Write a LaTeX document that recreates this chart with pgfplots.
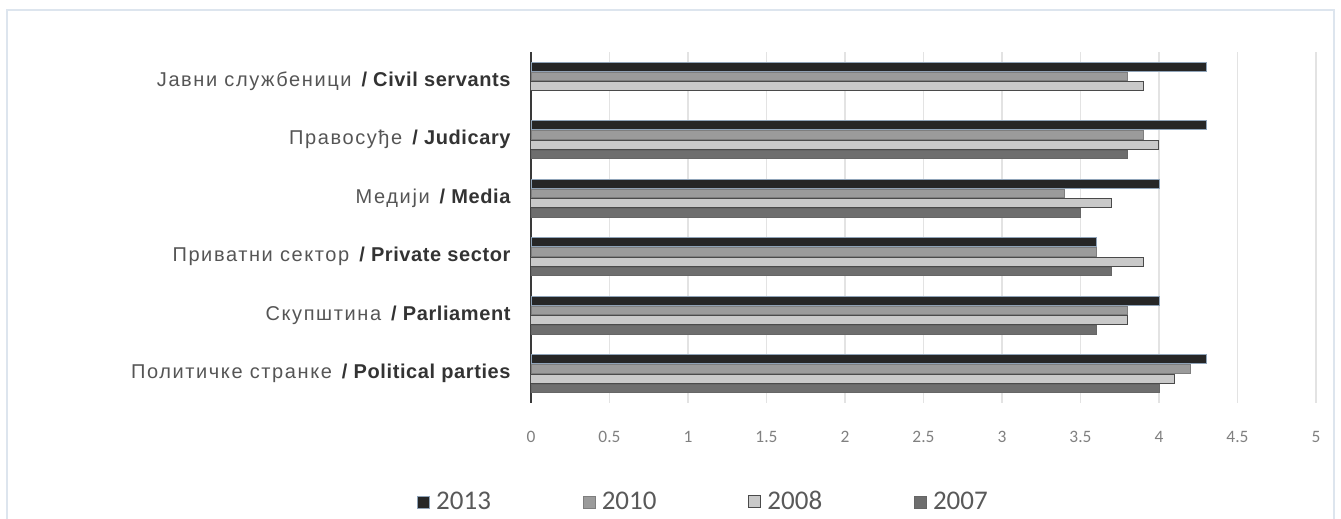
\documentclass[border=0pt]{standalone}
\usepackage{fontspec}
\setmainfont{Carlito}
\newfontfamily\cyr{Liberation Sans}[LetterSpace=8]
\newfontfamily\eng{Liberation Sans}[LetterSpace=3]
\usepackage{pgfplots}
\pgfplotsset{compat=1.18}
\definecolor{c13}{HTML}{262626}
\definecolor{c13b}{HTML}{8FA3B8}
\definecolor{c10}{HTML}{9B9B9B}
\definecolor{c10b}{HTML}{7E7E7E}
\definecolor{c08}{HTML}{C9C9C9}
\definecolor{c08b}{HTML}{4A4A4A}
\definecolor{c07}{HTML}{6E6E6E}
\definecolor{c07b}{HTML}{666666}
\definecolor{gridc}{HTML}{E3E3E3}
\definecolor{yax}{HTML}{3A3A3A}
\definecolor{bord}{HTML}{DDE5EE}
\definecolor{cyrc}{HTML}{555555}
\definecolor{engc}{HTML}{333333}
\definecolor{tickc}{HTML}{808080}
\definecolor{legc}{HTML}{595959}
\newcommand{\lbl}[2]{{\cyr\color{cyrc}#1}\hspace{5pt}{\eng\bfseries\color{engc}/ #2}}
\begin{document}
\begin{tikzpicture}[x=1pt,y=1pt]
\useasboundingbox (0,0) rectangle (670.5,259.5);
\draw[color=bord, line width=0.7pt] (3.5,-5) -- (3.5,254.5) -- (667,254.5) -- (667,-5);
\begin{axis}[
  at={(265.5pt,58pt)}, anchor=south west,
  scale only axis, width=392.5pt, height=175.5pt,
  xbar, bar width=4.4pt,
  xmin=0, xmax=5, ymin=-0.5, ymax=5.5,
  xtick={0,0.5,1,1.5,2,2.5,3,3.5,4,4.5,5},
  ytick={0,1,2,3,4,5},
  yticklabels={
    {\lbl{Политичке странке}{Political parties}},
    {\lbl{Скупштина}{Parliament}},
    {\lbl{Приватни сектор}{Private sector}},
    {\lbl{Медији}{Media}},
    {\lbl{Правосуђе}{Judicary}},
    {\lbl{Јавни службеници}{Civil servants}}},
  yticklabel style={anchor=east, xshift=-6.7pt, font=\fontsize{10}{12}\selectfont},
  xticklabel style={yshift=-10.7pt, font=\fontsize{8.7}{10}\selectfont, text=tickc},
  /pgf/number format/assume math mode=true,
  major tick length=0pt, tick style={draw=none},
  xmajorgrids, major grid style={color=gridc, line width=0.6pt},
  axis x line*=bottom, axis y line*=left,
  x axis line style={draw=none},
  y axis line style={draw=yax, line width=1.3pt, -},
  legend columns=4, legend cell align=left,
  legend style={at={(-0.1452,-0.282)}, anchor=west, draw=none, fill=none,
    inner sep=0pt, font=\fontsize{13.5}{16}\selectfont, text=legc,
    /tikz/every odd column/.append style={column sep=1pt},
    /tikz/every even column/.append style={column sep=44pt}},
  legend image code/.code={\draw[#1] (0pt,-3pt) rectangle (6pt,3pt);},
]
\addplot[fill=c13, draw=c13b, line width=0.4pt, bar shift=7.35pt] coordinates {
  (4.3,5) (4.3,4) (4.0,3) (3.6,2) (4.0,1) (4.3,0)};
\addplot[fill=c10, draw=c10b, line width=0.4pt, bar shift=2.45pt] coordinates {
  (3.8,5) (3.9,4) (3.4,3) (3.6,2) (3.8,1) (4.2,0)};
\addplot[fill=c08, draw=c08b, line width=0.5pt, bar shift=-2.45pt] coordinates {
  (3.9,5) (4.0,4) (3.7,3) (3.9,2) (3.8,1) (4.1,0)};
\addplot[fill=c07, draw=c07b, line width=0.4pt, bar shift=-7.35pt] coordinates {
  (3.8,4) (3.5,3) (3.7,2) (3.6,1) (4.0,0)};
\legend{2013,2010,2008,2007}
\end{axis}
\end{tikzpicture}
\end{document}
